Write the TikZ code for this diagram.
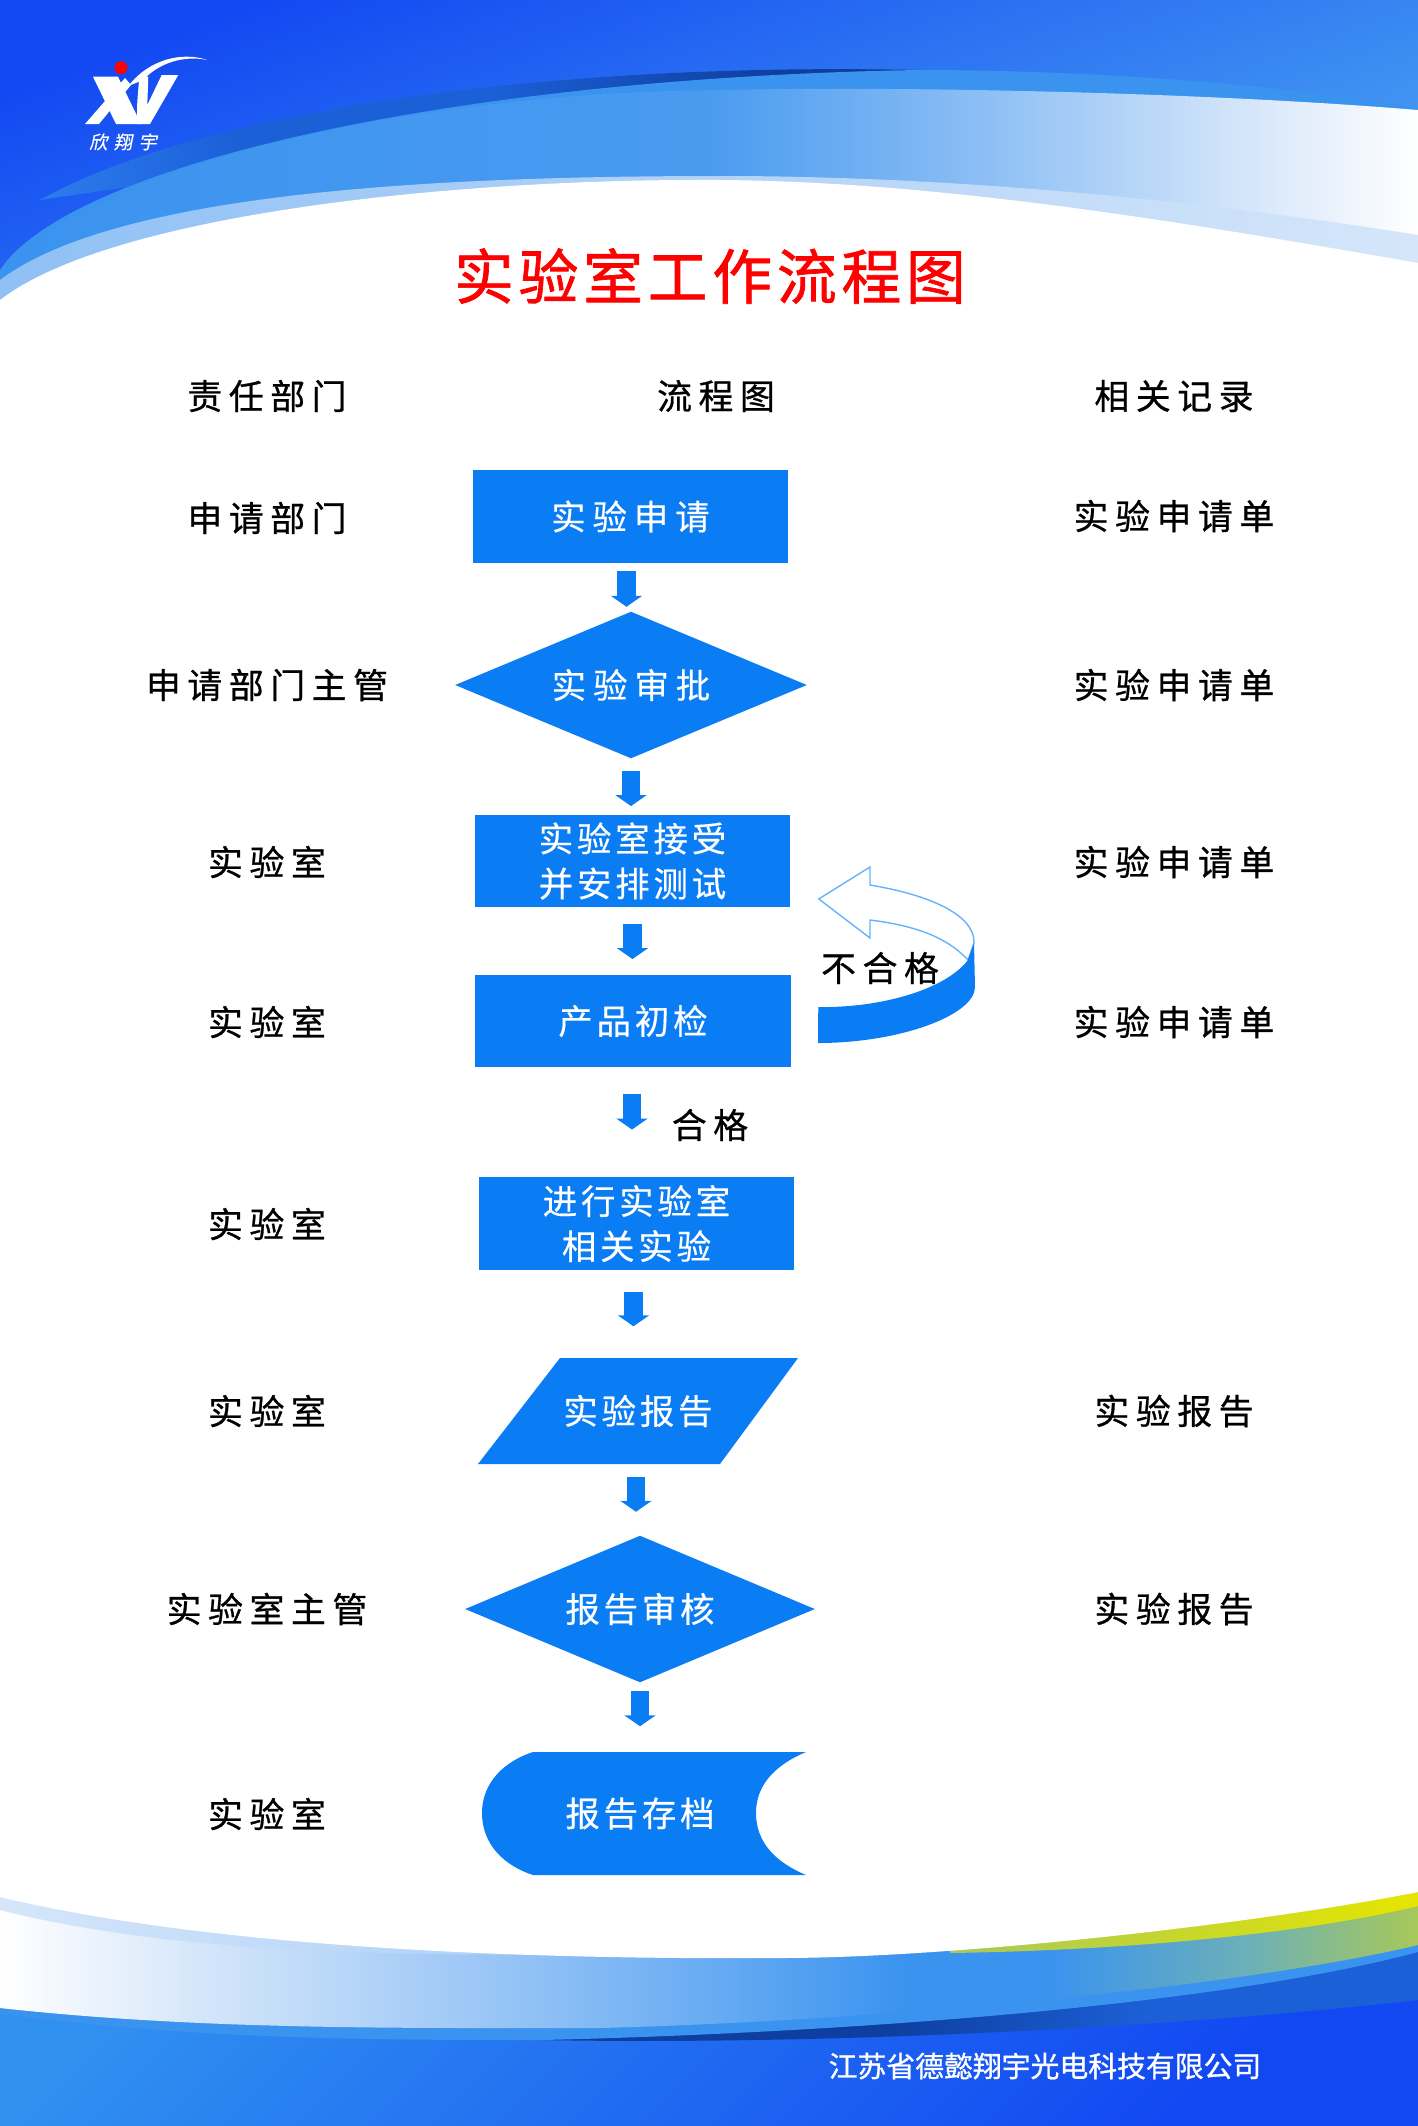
\documentclass[tikz,border=0pt]{standalone}
\usepackage{fontspec}
\usetikzlibrary{arrows.meta, shapes.geometric}
\newfontfamily\cjkblack[LetterSpace=19,FakeBold=0.8]{Noto Sans CJK SC}
\newfontfamily\cjkwhite[LetterSpace=11,FakeBold=0.4]{Noto Sans CJK SC}
\newfontfamily\cjkwide[LetterSpace=20,FakeBold=0.4]{Noto Sans CJK SC}
\newfontfamily\cjktitle[LetterSpace=8,FakeBold=1.2]{Noto Sans CJK SC}
\newfontfamily\cjklogo[LetterSpace=35,FakeSlant=0.2,FakeBold=0.6]{Noto Sans CJK SC}
\newfontfamily\cjkfirm[FakeBold=1]{Noto Sans CJK SC}
\definecolor{flowblue}{HTML}{0A7DF5}
\definecolor{skyA}{HTML}{1248F2}
\definecolor{skyC}{HTML}{4CA6F2}
\definecolor{seaB}{HTML}{2A78F0}
\definecolor{seaC}{HTML}{3090F0}
\definecolor{fadeA}{HTML}{3A93EF}
\definecolor{fadeB}{HTML}{4A9BF0}
\definecolor{fadeC}{HTML}{8FC0F5}
\definecolor{fadeD}{HTML}{D5E6FA}
\definecolor{darkA}{HTML}{2C7CEF}
\definecolor{darkB}{HTML}{1C60D8}
\definecolor{darkC}{HTML}{0E3FA0}
\definecolor{footG}{HTML}{6CB0B8}
\definecolor{footH}{HTML}{A8C858}
\pgfdeclarehorizontalshading{headfade}{100bp}{color(0bp)=(fadeA); color(25bp)=(fadeA); color(50bp)=(fadeB); color(60bp)=(fadeC); color(69bp)=(fadeD); color(75bp)=(white); color(100bp)=(white)}
\pgfdeclarehorizontalshading{headswoosh}{100bp}{color(0bp)=(darkA); color(25bp)=(darkA); color(36bp)=(darkB); color(50bp)=(darkB); color(67bp)=(darkC); color(75bp)=(darkC); color(100bp)=(darkC)}
\pgfdeclarehorizontalshading{footfade}{100bp}{color(0bp)=(white); color(25bp)=(white); color(32bp)=(fadeD); color(44bp)=(fadeC); color(57bp)=(fadeA); color(62bp)=(fadeA); color(69bp)=(footG); color(75bp)=(footH); color(100bp)=(footH)}
\pgfdeclarehorizontalshading{footswoosh}{100bp}{color(0bp)=(darkC); color(25bp)=(darkC); color(45bp)=(darkC); color(60bp)=(darkB); color(75bp)=(darkB); color(100bp)=(darkB)}
\begin{document}
\begin{tikzpicture}[
  x=0.01cm, y=-0.01cm,
  black label/.style={font=\cjkblack\fontsize{9.9}{12.8}\selectfont, text=black},
  stepbox/.style={rectangle, fill=flowblue, minimum width=3.15cm, minimum height=0.925cm,
                  inner sep=0pt, text=white, align=center, font=\cjkwhite\fontsize{9.8}{12.8}\selectfont},
  judgebox/.style={diamond, aspect=2.39, fill=flowblue, minimum width=3.52cm, minimum height=1.47cm,
                  inner sep=0pt, text=white, font=\cjkwhite\fontsize{9.8}{12.8}\selectfont},
  textbox/.style={rectangle, inner sep=0pt, text=white, font=\cjkwhite\fontsize{9.8}{12.8}\selectfont},
  arr/.style={-{Triangle[width=0.31cm, length=0.11cm]}, line width=0.18cm, draw=flowblue}
]
  \useasboundingbox (0,0) rectangle (1418,2126);

  % head band
  \shade[top color=skyA, bottom color=skyC, shading angle=20] (0,0) rectangle (1418,320);
  \shade[shading=headswoosh] (40,200) .. controls (200,110) and (550,62) .. (918,70) -- cycle;
  \fill[fadeA] (0,270) .. controls (70,165) and (450,78) .. (918,70) .. controls (1100,70) and (1280,85) .. (1418,108) -- (1418,320) -- (0,320) -- cycle;
  \shade[shading=headfade] (0,275) .. controls (80,170) and (400,92) .. (723,90) .. controls (900,86) and (1200,92) .. (1418,110) -- (1418,320) -- (0,320) -- cycle;
  \shade[left color=fadeC, right color=fadeD] (0,280) .. controls (120,190) and (450,176) .. (723,176) .. controls (950,176) and (1200,200) .. (1418,235) -- (1418,320) -- (0,320) -- cycle;
  \fill[white] (0,300) .. controls (110,215) and (450,178) .. (723,180) .. controls (950,182) and (1200,225) .. (1418,263) -- (1418,330) -- (0,330) -- cycle;

  % foot band
  \shade[left color=skyA, middle color=seaB, right color=seaC, shading angle=-135] (0,1880) rectangle (1418,2126);
  \shade[shading=footswoosh] (542,2040) .. controls (800,2045) and (1150,2030) .. (1418,2000) -- (1418,1940) -- cycle;
  \fill[fadeA] (0,2014) .. controls (200,2040) and (380,2040) .. (542,2040) .. controls (800,2034) and (1200,2010) .. (1418,1952) -- (1418,1880) -- (0,1880) -- cycle;
  \shade[shading=footfade] (0,2008) .. controls (200,2030) and (400,2028) .. (600,2028) .. controls (900,2020) and (1250,1985) .. (1418,1945) -- (1418,1880) -- (0,1880) -- cycle;
  \shade[left color=footH, right color=yellow!90!black] (950,1953) .. controls (1150,1950) and (1320,1930) .. (1418,1906) -- (1418,1885) -- (950,1885) -- cycle;
  \shade[left color=fadeD, right color=fadeC] (0,1910) .. controls (200,1960) and (450,1960) .. (950,1948) -- (950,1880) -- (0,1880) -- cycle;
  \fill[white] (0,1897) .. controls (200,1945) and (500,1960) .. (780,1958) .. controls (950,1958) and (1250,1925) .. (1418,1892) -- (1418,1880) -- (0,1880) -- cycle;

  % logo
  \fill[white] (93,76.7) -- (118,76.7) -- (141,124) -- (116,124) -- cycle;
  \fill[white] (85,124) -- (99,124) -- (131,85) -- (125,78) -- cycle;
  \fill[white] (136.7,124) -- (150,124) -- (178.3,75) -- (161.7,75) -- (147.3,105) -- (148.3,76.7) -- (139.3,76.7) -- (137.3,101.7) -- cycle;
  \fill[white] (128.3,86) .. controls (150,58.3) and (183.3,51.7) .. (207.3,60) .. controls (183.3,55) and (158.3,63.3) .. (143.3,80) -- cycle;
  \fill[red] (121,67.7) circle[radius=6.5];
  \node[text=white, font=\cjklogo\fontsize{5.2}{6}\selectfont] (logo) at (123,142) {欣翔宇};

  \node[text=red, font=\cjktitle\fontsize{17}{20}\selectfont] (title) at (710,276) {实验室工作流程图};
  \node[black label] (h1) at (267,396) {责任部门};
  \node[black label] (h2) at (716,396) {流程图};
  \node[black label] (h3) at (1174,396) {相关记录};

  % left column
  \node[black label] (d1) at (267,518)  {申请部门};
  \node[black label] (d2) at (267,685)  {申请部门主管};
  \node[black label] (d3) at (267,862)  {实验室};
  \node[black label] (d4) at (267,1022) {实验室};
  \node[black label] (d5) at (267,1224) {实验室};
  \node[black label] (d6) at (267,1411) {实验室};
  \node[black label] (d7) at (267,1609) {实验室主管};
  \node[black label] (d8) at (267,1814) {实验室};

  % right column
  \node[black label] (r1) at (1174,516)  {实验申请单};
  \node[black label] (r2) at (1174,685)  {实验申请单};
  \node[black label] (r3) at (1174,862)  {实验申请单};
  \node[black label] (r4) at (1174,1022) {实验申请单};
  \node[black label] (r6) at (1174,1411) {实验报告};
  \node[black label] (r7) at (1174,1609) {实验报告};

  % flow
  \fill[flowblue] (560,1358) -- (798,1358) -- (720,1464) -- (478,1464) -- cycle;
  \fill[flowblue] (533,1752) -- (806,1752) .. controls (775,1765) and (756,1785) .. (756,1813) .. controls (756,1842) and (775,1862) .. (806,1875) -- (533,1875) .. controls (505,1866) and (482,1845) .. (482,1813) .. controls (482,1782) and (505,1761) .. (533,1752) -- cycle;
  \node[stepbox, font=\cjkwide\fontsize{9.8}{12.8}\selectfont] (shenqing) at (630.5,516.5) {实验申请};
  \node[judgebox, font=\cjkwide\fontsize{9.8}{12.8}\selectfont] (shenpi) at (631,685) {实验审批};
  \node[stepbox] (jieshou) at (632.5,861) {实验室接受\\并安排测试};
  \node[stepbox] (chujian) at (633,1021) {产品初检};
  \node[stepbox] (xiangguan) at (636.5,1223.5) {进行实验室\\相关实验};
  \node[textbox, minimum width=2.4cm, minimum height=1.06cm] (baogao) at (638,1411) {实验报告};
  \node[judgebox, minimum width=3.5cm] (shenhe) at (640,1609) {报告审核};
  \node[textbox, minimum width=2.9cm, minimum height=1.23cm] (cundang) at (640,1813.5) {报告存档};

  \foreach \from/\to/\dx/\gapa/\gapb in {shenqing/shenpi/-4/8/4, shenpi/jieshou/0/12/8,
      jieshou/chujian/0/16/15, chujian/xiangguan/-1/26/47, xiangguan/baogao/-3/21/31,
      baogao/shenhe/-2/12/23, shenhe/cundang/0/8/25}
    \draw[arr, shorten <=\gapa*0.01cm, shorten >=\gapb*0.01cm]
      ([xshift=\dx*0.01cm]\from.south) -- ([xshift=\dx*0.01cm]\from.south |- \to.north);

  % return arrow
  \draw[fill=white, draw=blue!50!cyan!60!white, line width=0.4pt]
    ([shift={(28,-9)}]jieshou.south east) -- (870,867) -- (870,885) .. controls (930,895) and (975,915) .. (974,943)
    -- (968,960) .. controls (945,935) and (910,925) .. (870,920) -- (870,938) -- cycle;
  \fill[flowblue] ([shift={(27,33)}]chujian.north east) .. controls (880,1008) and (945,990) .. (968,960) -- (974,943)
    -- (975,987) .. controls (975,1015) and (900,1043) .. (818,1043) -- cycle;
  \node[black label] (buhege) at (880,968) {不合格};
  \node[black label] (hege) at (710,1125) {合格};

  \node[text=white, font=\cjkfirm\fontsize{8.2}{10}\selectfont] (firm) at (1045,2066) {江苏省德懿翔宇光电科技有限公司};
\end{tikzpicture}
\end{document}
